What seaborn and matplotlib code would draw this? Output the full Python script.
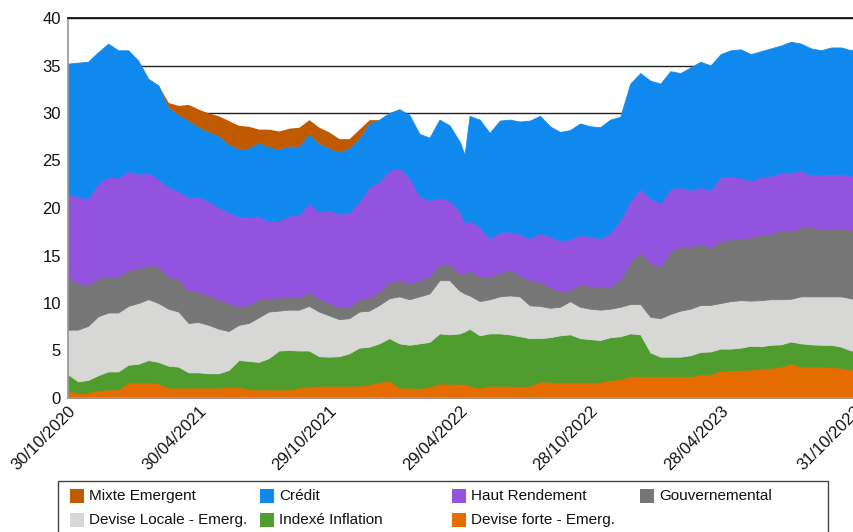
import pandas as pd
import numpy as np
import seaborn as sns
import matplotlib
matplotlib.use("Agg")
import matplotlib.pyplot as plt
from matplotlib.patches import Rectangle

# data (roughly every two weeks)
dates = [
    "2020-10-30", "2020-11-13", "2020-11-27", "2020-12-11", "2020-12-25",
    "2021-01-08", "2021-01-22", "2021-02-05", "2021-02-19", "2021-03-05",
    "2021-03-19", "2021-04-02", "2021-04-16", "2021-04-30", "2021-05-14",
    "2021-05-28", "2021-06-11", "2021-06-25", "2021-07-09", "2021-07-23",
    "2021-08-06", "2021-08-20", "2021-09-03", "2021-09-17", "2021-10-01",
    "2021-10-15", "2021-10-29", "2021-11-12", "2021-11-26", "2021-12-10",
    "2021-12-24", "2022-01-07", "2022-01-21", "2022-02-04", "2022-02-18",
    "2022-03-04", "2022-03-18", "2022-04-01", "2022-04-15", "2022-04-29",
    "2022-05-06", "2022-05-13", "2022-05-27", "2022-06-10", "2022-06-24",
    "2022-07-08", "2022-07-22", "2022-08-05", "2022-08-19", "2022-09-02",
    "2022-09-16", "2022-09-30", "2022-10-14", "2022-10-28", "2022-11-11",
    "2022-11-25", "2022-12-09", "2022-12-23", "2023-01-06", "2023-01-20",
    "2023-02-03", "2023-02-17", "2023-03-03", "2023-03-17", "2023-03-31",
    "2023-04-14", "2023-04-28", "2023-05-12", "2023-05-26", "2023-06-09",
    "2023-06-23", "2023-07-07", "2023-07-21", "2023-08-04", "2023-08-18",
    "2023-09-01", "2023-09-15", "2023-09-29", "2023-10-13", "2023-10-27",
    "2023-10-31",
]

devise_forte = [
    0.8, 0.5, 0.6, 0.85, 0.9, 0.9, 1.65, 1.65, 1.65, 1.55,
    1.1, 1.1, 1.1, 1.1, 1.1, 1.1, 1.15, 1.2, 0.95, 0.9,
    0.9, 0.9, 0.9, 1.1, 1.25, 1.3, 1.3, 1.3, 1.3, 1.3,
    1.45, 1.7, 1.8, 1.1, 1.1, 1.05, 1.2, 1.55, 1.5, 1.5,
    1.5, 1.3, 1.1, 1.3, 1.3, 1.3, 1.25, 1.3, 1.75, 1.7,
    1.7, 1.7, 1.7, 1.7, 1.7, 1.9, 2.0, 2.3, 2.3, 2.3,
    2.3, 2.3, 2.3, 2.3, 2.5, 2.5, 2.9, 2.95, 2.95, 3.0,
    3.1, 3.2, 3.3, 3.65, 3.3, 3.3, 3.3, 3.25, 3.2, 3.0,
    3.0,
]
indexe_inflation = [
    1.7, 1.25, 1.3, 1.55, 1.9, 1.9, 1.85, 1.95, 2.35, 2.25,
    2.3, 2.2, 1.6, 1.6, 1.5, 1.5, 1.8, 2.8, 2.95, 2.9,
    3.3, 4.1, 4.15, 3.9, 3.75, 3.1, 3.05, 3.1, 3.4, 4.0,
    3.95, 4.05, 4.5, 4.65, 4.5, 4.7, 4.7, 5.25, 5.2, 5.3,
    5.5, 6.0, 5.5, 5.5, 5.5, 5.4, 5.25, 5.0, 4.55, 4.7,
    4.9, 5.0, 4.6, 4.5, 4.4, 4.5, 4.5, 4.5, 4.4, 2.5,
    2.05, 2.05, 2.05, 2.2, 2.35, 2.4, 2.3, 2.25, 2.35, 2.5,
    2.35, 2.4, 2.35, 2.3, 2.45, 2.35, 2.3, 2.35, 2.2, 2.0,
    2.0,
]
devise_locale = [
    4.7, 5.45, 5.7, 6.2, 6.2, 6.2, 6.2, 6.4, 6.4, 6.2,
    6.0, 5.8, 5.2, 5.3, 5.1, 4.7, 4.1, 3.7, 4.0, 4.7,
    4.9, 4.2, 4.25, 4.3, 4.7, 4.7, 4.35, 3.9, 3.7, 3.8,
    3.8, 4.05, 4.2, 4.95, 4.8, 4.95, 5.1, 5.6, 5.7, 4.5,
    4.0, 3.5, 3.6, 3.6, 3.9, 4.1, 4.2, 3.45, 3.4, 3.1,
    3.0, 3.5, 3.3, 3.2, 3.2, 3.0, 3.1, 3.1, 3.2, 3.75,
    4.05, 4.5, 4.85, 4.9, 4.95, 4.9, 4.8, 5.0, 5.0, 4.75,
    4.85, 4.8, 4.75, 4.5, 4.95, 5.05, 5.1, 5.1, 5.3, 5.5,
    5.4,
]
gouvernemental = [
    5.5, 4.9, 4.3, 4.0, 3.8, 3.8, 3.8, 3.6, 3.6, 3.8,
    3.4, 3.4, 3.4, 3.2, 3.1, 3.1, 2.95, 1.9, 1.9, 1.9,
    1.4, 1.4, 1.3, 1.3, 1.4, 1.4, 1.3, 1.3, 1.2, 1.3,
    1.4, 1.4, 1.7, 1.7, 1.7, 1.7, 1.8, 1.7, 1.7, 1.8,
    2.1, 2.6, 2.6, 2.4, 2.5, 2.7, 2.2, 2.65, 2.5, 2.2,
    1.6, 1.2, 2.4, 2.4, 2.4, 2.35, 2.9, 4.4, 5.4, 5.65,
    5.4, 6.55, 6.8, 6.5, 6.4, 6.1, 6.5, 6.5, 6.5, 6.65,
    6.9, 6.9, 7.3, 7.15, 7.3, 7.3, 7.05, 7.2, 7.2, 7.2,
    7.3,
]
haut_rendement = [
    8.8, 9.1, 9.1, 10.0, 10.5, 10.4, 10.4, 10.0, 9.7, 9.3,
    9.4, 9.3, 9.8, 10.0, 9.9, 9.7, 9.6, 9.5, 9.3, 8.8,
    8.1, 8.1, 8.6, 8.7, 9.4, 9.1, 9.8, 9.8, 9.9, 10.3,
    11.6, 11.6, 11.8, 11.8, 11.1, 8.9, 8.0, 7.0, 6.7, 6.6,
    5.3, 5.3, 5.2, 4.0, 4.3, 4.0, 4.4, 4.4, 5.2, 5.3,
    5.4, 5.3, 5.2, 5.2, 5.1, 5.65, 6.2, 6.5, 6.7, 6.8,
    6.7, 6.6, 6.2, 6.0, 6.0, 6.0, 6.8, 6.6, 6.4, 6.0,
    6.1, 6.1, 6.0, 6.2, 5.9, 5.5, 5.75, 5.7, 5.7, 5.7,
    5.7,
]
credit = [
    13.7, 14.1, 14.4, 13.8, 14.0, 13.4, 12.7, 11.9, 9.9, 9.8,
    8.4, 8.0, 8.1, 7.3, 7.3, 7.5, 7.1, 7.1, 7.2, 7.7,
    7.8, 7.5, 7.3, 7.2, 7.3, 7.2, 6.5, 6.5, 6.8, 6.6,
    6.7, 6.5, 6.0, 6.2, 6.6, 6.5, 6.6, 8.2, 7.9, 7.3,
    7.2, 11.0, 11.3, 11.1, 11.7, 11.8, 11.8, 12.4, 12.3, 11.6,
    11.4, 11.5, 11.7, 11.6, 11.7, 11.9, 10.9, 12.3, 12.2, 12.4,
    12.6, 12.4, 12.0, 12.9, 13.2, 13.1, 12.9, 13.3, 13.5, 13.3,
    13.2, 13.4, 13.4, 13.7, 13.4, 13.3, 13.1, 13.3, 13.3, 13.2,
    13.4,
]
mixte_emergent = [
    0, 0, 0, 0, 0, 0, 0, 0, 0, 0,
    0.5, 1.0, 1.7, 1.9, 2.0, 2.1, 2.5, 2.5, 2.3, 1.4,
    1.9, 1.9, 1.9, 2.0, 1.5, 1.7, 1.7, 1.4, 1.0, 1.0,
    0.4, 0, 0, 0, 0, 0, 0, 0, 0, 0,
    0, 0, 0, 0, 0, 0, 0, 0, 0, 0,
    0, 0, 0, 0, 0, 0, 0, 0, 0, 0,
    0, 0, 0, 0, 0, 0, 0, 0, 0, 0,
    0, 0, 0, 0, 0, 0, 0, 0, 0, 0,
    0,
]

tick_dates = ["2020-10-30", "2021-04-30", "2021-10-29", "2022-04-29",
              "2022-10-28", "2023-04-28", "2023-10-31"]

# stacking order bottom -> top
stack_names = ["Devise forte - Emerg.", "Indexé Inflation", "Devise Locale - Emerg.",
               "Gouvernemental", "Haut Rendement", "Crédit", "Mixte Emergent"]
colors = {
    "Mixte Emergent": "#BF5A00",
    "Crédit": "#1089EE",
    "Haut Rendement": "#9254DE",
    "Gouvernemental": "#777777",
    "Devise Locale - Emerg.": "#D7D8D6",
    "Indexé Inflation": "#4F9C2F",
    "Devise forte - Emerg.": "#E46C00",
}

df = pd.DataFrame({
    "Devise forte - Emerg.": devise_forte,
    "Indexé Inflation": indexe_inflation,
    "Devise Locale - Emerg.": devise_locale,
    "Gouvernemental": gouvernemental,
    "Haut Rendement": haut_rendement,
    "Crédit": credit,
    "Mixte Emergent": mixte_emergent,
}, index=pd.to_datetime(dates))

sns.set_theme(style="white")
plt.rcParams["font.family"] = ["Liberation Sans", "DejaVu Sans"]

W, H = 854, 532
fig = plt.figure(figsize=(W / 100, H / 100), dpi=100)
ax = fig.add_axes([68 / W, 1 - 398 / H, 786 / W, 380 / H])

polys = ax.stackplot(df.index, df[stack_names].T.values,
                     colors=[colors[n] for n in stack_names], linewidth=0.6)
for p, n in zip(polys, stack_names):
    p.set_edgecolor(colors[n])
# top layer is zero most of the time: no outline, or it traces the blue edge
polys[-1].set_linewidth(0)

ax.set_ylim(0, 40)
ax.set_yticks(range(0, 41, 5))
ax.set_xlim(pd.Timestamp(dates[0]), pd.Timestamp(dates[-1]))
ticks = pd.to_datetime(tick_dates)
ax.set_xticks(ticks)
ax.set_xticklabels([t.strftime("%d/%m/%Y") for t in ticks])
ax.set_axisbelow(True)
ax.yaxis.grid(True, color="#222222", linewidth=1)
ax.xaxis.grid(False)

ax.spines["right"].set_visible(False)
ax.spines["top"].set_color("#111111")
ax.spines["left"].set_color("#999999")
ax.spines["bottom"].set_color("#999999")

ax.tick_params(axis="y", length=0, pad=5, labelsize=12, labelcolor="#111111")
ax.tick_params(axis="x", length=0, pad=4, labelsize=12, labelcolor="#111111")
plt.setp(ax.get_xticklabels(), rotation=45, ha="right", va="top",
         rotation_mode="anchor")

# legend drawn by hand so the columns sit evenly like the reference
def fx(px):
    return px / W

def fy(py):
    return 1 - py / H

fig.add_artist(Rectangle((fx(58), fy(545)), fx(828) - fx(58), fy(481) - fy(545),
                         transform=fig.transFigure, fill=False,
                         edgecolor="#444444", linewidth=1))
legend_rows = [
    ["Mixte Emergent", "Crédit", "Haut Rendement", "Gouvernemental"],
    ["Devise Locale - Emerg.", "Indexé Inflation", "Devise forte - Emerg."],
]
col_x = [70, 260, 452, 640]
row_y = [496, 520]
for r, row in enumerate(legend_rows):
    for c, name in enumerate(row):
        x0, yc = col_x[c], row_y[r]
        fig.add_artist(Rectangle((fx(x0), fy(yc + 7)), 14 / W, 14 / H,
                                 transform=fig.transFigure,
                                 facecolor=colors[name], edgecolor="none"))
        fig.text(fx(x0 + 19), fy(yc), name, fontsize=11, color="#111111",
                 ha="left", va="center")

fig.savefig("out.png", dpi=100)
